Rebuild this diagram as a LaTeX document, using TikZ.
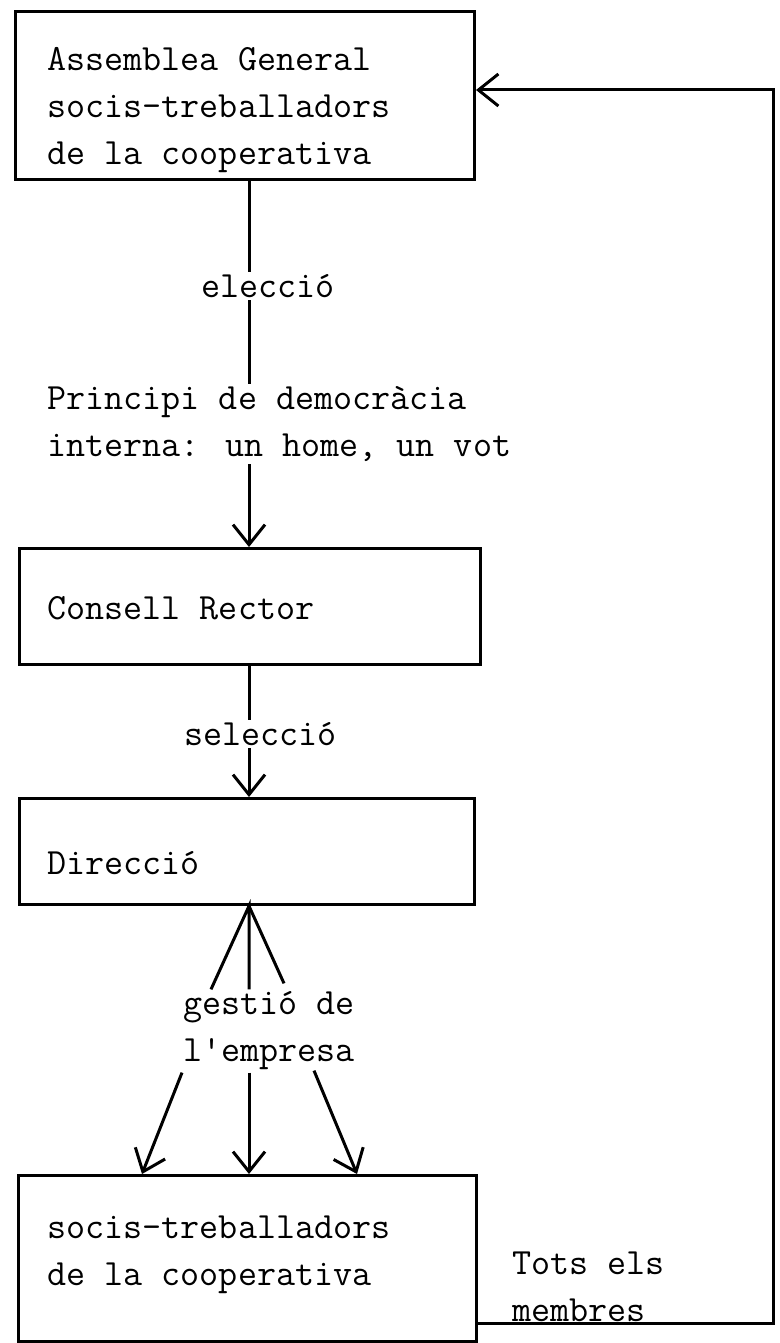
\documentclass[tikz,border=0pt]{standalone}
\usepackage{fontspec}
\usetikzlibrary{arrows.meta}
\begin{document}
\begin{tikzpicture}[x=1pt,y=-1pt, line width=3pt,
  box/.style={draw, rectangle, inner sep=0pt, anchor=north west},
  txt/.style={font=\ttfamily\fontsize{37}{47}\selectfont, align=left, inner sep=1pt, anchor=west},
  arr/.style={-{Straight Barb[length=20pt,width=32pt]}}]
\useasboundingbox (0,0) rectangle (779,1343);
% boxes
\node[box, minimum width=459pt, minimum height=168pt] (A) at (14,10) {};
\node[box, minimum width=461pt, minimum height=116pt] (B) at (18,547) {};
\node[box, minimum width=455pt, minimum height=106pt] (C) at (18,797) {};
\node[box, minimum width=458pt, minimum height=166pt] (D) at (17,1174) {};
% box texts
\node[txt] (tA) at (45,110) {Assemblea General\\socis-treballadors\\de la cooperativa};
\node[txt] (tB) at (45,608) {Consell Rector};
\node[txt] (tC) at (45,863) {Direcció};
\node[txt] (tD) at (45,1255) {socis-treballadors\\de la cooperativa};
% labels
\node[txt] (el) at (199,286) {elecció};
\node[txt] (pr) at (45,424) {Principi de democràcia\\interna: un home, un vot};
\node[txt] (se) at (182,734) {selecció};
\node[txt] (gs) at (181,1031) {gestió de\\l'empresa};
\node[txt] (ts) at (510,1287) {Tots els\\membres};
% axis
\coordinate (ax) at (249,0);
\draw (A.south -| ax) -- (el.north -| ax);
\draw (el.south -| ax) -- (pr.north -| ax);
\draw[arr] (pr.south -| ax) -- (B.north -| ax);
\draw (B.south -| ax) -- (se.north -| ax);
\draw[arr] (se.south -| ax) -- (C.north -| ax);
% gestio fan
\draw ([xshift=30pt]gs.north west) -- (C.south -| ax) -- ([xshift=68pt]gs.north west);
\draw (C.south -| ax) -- ([xshift=103pt,yshift=6pt]gs.north west);
\draw[arr] ([xshift=1pt]gs.south west) -- ([xshift=125pt]D.north west);
\draw[arr] ([xshift=68pt]gs.south west) -- ([xshift=232pt]D.north west);
\draw[arr] ([xshift=133pt,yshift=2pt]gs.south west) -- ([xshift=340pt]D.north west);
% feedback
\coordinate (fbb) at (773,1323);
\coordinate (fbt) at (773,90);
\draw[arr] (D.east |- fbb) -- (fbb) -- (fbt) -- (A.east |- fbt);
\end{tikzpicture}
\end{document}
